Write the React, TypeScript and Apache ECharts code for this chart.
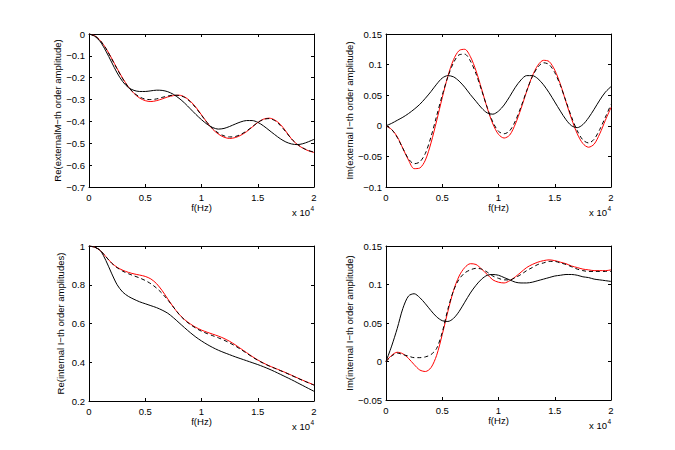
import React, { useEffect, useRef } from "react";
import * as echarts from "echarts";

// frequency in units of 10^4 Hz
const FREQ = [
  0, 0.05, 0.1, 0.15, 0.2, 0.25, 0.3, 0.35, 0.4, 0.45, 0.5, 0.55, 0.6, 0.65, 0.7, 0.75, 0.8, 0.85, 0.9, 0.95,
  1.0, 1.05, 1.1, 1.15, 1.2, 1.25, 1.3, 1.35, 1.4, 1.45, 1.5, 1.55, 1.6, 1.65, 1.7, 1.75, 1.8, 1.85, 1.9, 1.95, 2.0,
];

// Re(external M-th order amplitude)
const RE_EXT_BLACK = [
  0, -0.01, -0.035, -0.078, -0.128, -0.178, -0.218, -0.245, -0.258, -0.263, -0.263, -0.26, -0.257, -0.258, -0.264, -0.276, -0.294, -0.316, -0.342, -0.368,
  -0.392, -0.413, -0.428, -0.435, -0.432, -0.423, -0.412, -0.402, -0.396, -0.396, -0.404, -0.42, -0.44, -0.46, -0.479, -0.494, -0.503, -0.506, -0.502, -0.493, -0.482,
];
const RE_EXT_DASH = [
  0, -0.008, -0.03, -0.066, -0.112, -0.16, -0.205, -0.243, -0.27, -0.288, -0.298, -0.3, -0.297, -0.29, -0.284, -0.28, -0.281, -0.29, -0.31, -0.338,
  -0.372, -0.405, -0.433, -0.453, -0.466, -0.471, -0.469, -0.459, -0.444, -0.425, -0.405, -0.391, -0.387, -0.396, -0.418, -0.448, -0.48, -0.504, -0.521, -0.533, -0.54,
];
const RE_EXT_RED = [
  0, -0.008, -0.03, -0.065, -0.11, -0.158, -0.203, -0.242, -0.272, -0.293, -0.305, -0.309, -0.305, -0.297, -0.288, -0.282, -0.28, -0.288, -0.307, -0.335,
  -0.37, -0.405, -0.436, -0.458, -0.472, -0.478, -0.474, -0.463, -0.447, -0.426, -0.405, -0.39, -0.385, -0.393, -0.413, -0.445, -0.48, -0.505, -0.522, -0.534, -0.542,
];

// Im(external I-th order amplitude)
const IM_EXT_BLACK = [
  0, 0.004, 0.009, 0.014, 0.02, 0.027, 0.035, 0.045, 0.056, 0.068, 0.078, 0.082, 0.08, 0.073, 0.063, 0.051, 0.04, 0.029, 0.021, 0.019,
  0.024, 0.034, 0.048, 0.063, 0.075, 0.082, 0.082, 0.077, 0.067, 0.054, 0.039, 0.024, 0.01, 0.0, -0.003, 0.002, 0.013, 0.027, 0.042, 0.055, 0.064,
];
const IM_EXT_DASH = [
  0, -0.006, -0.019, -0.037, -0.054, -0.062, -0.059, -0.045, -0.018, 0.016, 0.05, 0.08, 0.103, 0.116, 0.117, 0.106, 0.085, 0.058, 0.03, 0.006,
  -0.009, -0.013, -0.008, 0.008, 0.031, 0.057, 0.08, 0.096, 0.103, 0.1, 0.087, 0.066, 0.04, 0.014, -0.008, -0.023, -0.028, -0.022, -0.006, 0.014, 0.035,
];
const IM_EXT_RED = [
  0, -0.006, -0.018, -0.037, -0.056, -0.07, -0.069, -0.056, -0.028, 0.008, 0.046, 0.081, 0.108, 0.123, 0.125, 0.113, 0.09, 0.06, 0.029, 0.003,
  -0.014, -0.02, -0.015, 0.003, 0.028, 0.056, 0.081, 0.099, 0.107, 0.105, 0.091, 0.068, 0.039, 0.011, -0.013, -0.029, -0.035, -0.03, -0.013, 0.009, 0.03,
];

// Re(internal I-th order amplitudes)
const RE_INT_BLACK = [
  1, 0.994, 0.977, 0.925, 0.86, 0.8, 0.762, 0.74, 0.725, 0.712, 0.702, 0.692, 0.682, 0.669, 0.653, 0.63, 0.604, 0.578, 0.553, 0.53,
  0.51, 0.492, 0.476, 0.462, 0.45, 0.439, 0.428, 0.418, 0.408, 0.398, 0.388, 0.377, 0.365, 0.352, 0.338, 0.324, 0.31, 0.295, 0.28, 0.265, 0.25,
];
const RE_INT_DASH = [
  1, 0.994, 0.977, 0.945, 0.912, 0.888, 0.87, 0.857, 0.846, 0.835, 0.822, 0.805, 0.783, 0.755, 0.722, 0.685, 0.648, 0.618, 0.595, 0.576,
  0.56, 0.548, 0.537, 0.526, 0.514, 0.5, 0.484, 0.466, 0.447, 0.428, 0.41, 0.395, 0.381, 0.369, 0.357, 0.345, 0.332, 0.319, 0.306, 0.294, 0.282,
];
const RE_INT_RED = [
  1, 0.994, 0.977, 0.945, 0.913, 0.89, 0.875, 0.864, 0.856, 0.85, 0.843, 0.83, 0.806, 0.77, 0.727, 0.685, 0.648, 0.62, 0.598, 0.58,
  0.566, 0.555, 0.545, 0.535, 0.523, 0.508, 0.49, 0.47, 0.45, 0.43, 0.412, 0.396, 0.382, 0.37, 0.358, 0.346, 0.333, 0.32, 0.307, 0.295, 0.283,
];

// Im(internal I-th order amplitude)
const IM_INT_BLACK = [
  0, 0.02, 0.043, 0.069, 0.085, 0.088, 0.083, 0.075, 0.066, 0.058, 0.053, 0.052, 0.056, 0.065, 0.077, 0.089, 0.099, 0.107, 0.112, 0.113,
  0.112, 0.109, 0.106, 0.103, 0.102, 0.102, 0.103, 0.105, 0.107, 0.109, 0.111, 0.112, 0.113, 0.113, 0.112, 0.11, 0.109, 0.107, 0.106, 0.105, 0.104,
];
const IM_INT_DASH = [
  0, 0.007, 0.011, 0.009, 0.007, 0.005, 0.005, 0.006, 0.009, 0.017, 0.038, 0.068, 0.092, 0.107, 0.115, 0.119, 0.121, 0.12, 0.116, 0.111,
  0.108, 0.106, 0.106, 0.109, 0.113, 0.118, 0.122, 0.126, 0.128, 0.13, 0.13, 0.128, 0.126, 0.123, 0.12, 0.118, 0.117, 0.117, 0.117, 0.117, 0.117,
];
const IM_INT_RED = [
  0, 0.008, 0.012, 0.01, 0.004, -0.004, -0.011, -0.013, -0.008, 0.008, 0.035, 0.065, 0.092, 0.111, 0.122, 0.127, 0.126, 0.12, 0.113, 0.106,
  0.103, 0.102, 0.105, 0.11, 0.116, 0.122, 0.126, 0.129, 0.131, 0.132, 0.131, 0.129, 0.127, 0.124, 0.122, 0.12, 0.119, 0.118, 0.118, 0.118, 0.119,
];

// axis ranges
const Y_RANGES = [
  { min: -0.7, max: 0, interval: 0.1 },
  { min: -0.1, max: 0.15, interval: 0.05 },
  { min: 0.2, max: 1, interval: 0.2 },
  { min: -0.05, max: 0.15, interval: 0.05 },
];
const Y_NAMES = [
  "Re(externalM\u2212th order amplitude)",
  "Im(external I\u2212th order amplitude)",
  "Re(internal I\u2212th order amplitudes)",
  "Im(internal I\u2212th order amplitude)",
];
const X_NAME = "f(Hz)";
const X_TICKS = { min: 0, max: 2, interval: 0.5 };

const SERIES_DATA = [
  [RE_EXT_BLACK, RE_EXT_DASH, RE_EXT_RED],
  [IM_EXT_BLACK, IM_EXT_DASH, IM_EXT_RED],
  [RE_INT_BLACK, RE_INT_DASH, RE_INT_RED],
  [IM_INT_BLACK, IM_INT_DASH, IM_INT_RED],
];

const LAYOUT = [
  { left: 89, top: 34, width: 225, height: 153, nameGap: 26 },
  { left: 386, top: 34, width: 225, height: 153, nameGap: 26 },
  { left: 89, top: 246, width: 225, height: 155, nameGap: 24 },
  { left: 386, top: 246, width: 225, height: 154, nameGap: 26 },
];

const FONT = "'Liberation Sans', Arial, Helvetica, sans-serif";
const FS = 9.5;

const fmt = (v: number) => {
  const s = String(Math.round(v * 1000) / 1000);
  return s.replace("-", "\u2212");
};

export default function App() {
  const ref = useRef<HTMLDivElement>(null);
  useEffect(() => {
    if (!ref.current) return;
    const chart = echarts.init(ref.current, undefined, { renderer: "svg" });
    const grid: any[] = [];
    const xAxis: any[] = [];
    const yAxis: any[] = [];
    const series: any[] = [];
    const graphic: any[] = [];
    const lineCol = "#000";
    LAYOUT.forEach((L, g) => {
      grid.push({ left: L.left, top: L.top, width: L.width, height: L.height, containLabel: false });
      const baseX = {
        type: "value",
        gridIndex: g,
        min: X_TICKS.min,
        max: X_TICKS.max,
        interval: X_TICKS.interval,
        axisLine: { show: true, onZero: false, lineStyle: { color: lineCol, width: 1 } },
        axisTick: { show: true, inside: true, length: 3, lineStyle: { color: lineCol, width: 1 } },
        splitLine: { show: false },
      };
      xAxis.push({
        ...baseX,
        position: "bottom",
        axisLabel: { color: "#000", fontSize: FS, fontFamily: FONT, margin: 5, formatter: fmt },
        name: X_NAME,
        nameLocation: "middle",
        nameGap: 13,
        nameTextStyle: { color: "#000", fontSize: FS, fontFamily: FONT, verticalAlign: "top" },
      });
      xAxis.push({ ...baseX, position: "top", axisLabel: { show: false } });
      const R = Y_RANGES[g];
      const baseY = {
        type: "value",
        gridIndex: g,
        min: R.min,
        max: R.max,
        interval: R.interval,
        axisLine: { show: true, onZero: false, lineStyle: { color: lineCol, width: 1 } },
        axisTick: { show: true, inside: true, length: 3, lineStyle: { color: lineCol, width: 1 } },
        splitLine: { show: false },
      };
      yAxis.push({
        ...baseY,
        position: "left",
        axisLabel: { color: "#000", fontSize: FS, fontFamily: FONT, margin: 4, formatter: fmt },
        name: Y_NAMES[g],
        nameLocation: "middle",
        nameGap: L.nameGap,
        nameTextStyle: { color: "#000", fontSize: FS, fontFamily: FONT },
      });
      yAxis.push({ ...baseY, position: "right", axisLabel: { show: false } });

      const [black, dash, red] = SERIES_DATA[g];
      const mk = (arr: number[], color: string, type: any) => ({
        type: "line",
        xAxisIndex: 2 * g,
        yAxisIndex: 2 * g,
        data: FREQ.map((f, i) => [f, arr[i]]),
        smooth: 0.3,
        showSymbol: false,
        symbol: "none",
        lineStyle: { color, width: 1, type },
        z: 2,
      });
      series.push(mk(red, "#ff0000", "solid"));
      series.push(mk(dash, "#000000", [4, 3]));
      series.push(mk(black, "#000000", "solid"));

      const right = L.left + L.width;
      const bottom = L.top + L.height;
      graphic.push({
        type: "text",
        x: right - 4,
        y: bottom + 25,
        style: { text: "x 10", fontSize: FS, fontFamily: FONT, fill: "#000", align: "right", verticalAlign: "middle" },
      });
      graphic.push({
        type: "text",
        x: right - 3.5,
        y: bottom + 21,
        style: { text: "4", fontSize: 6.5, fontFamily: FONT, fill: "#000", align: "left", verticalAlign: "middle" },
      });
    });
    chart.setOption({
      animation: false,
      backgroundColor: "#fff",
      textStyle: { fontFamily: FONT },
      grid,
      xAxis,
      yAxis,
      series,
      graphic,
    });
    return () => chart.dispose();
  }, []);
  return (
    <div
      ref={ref}
      style={{ position: "absolute", left: 0, top: 0, width: 675, height: 450 }}
    />
  );
}
